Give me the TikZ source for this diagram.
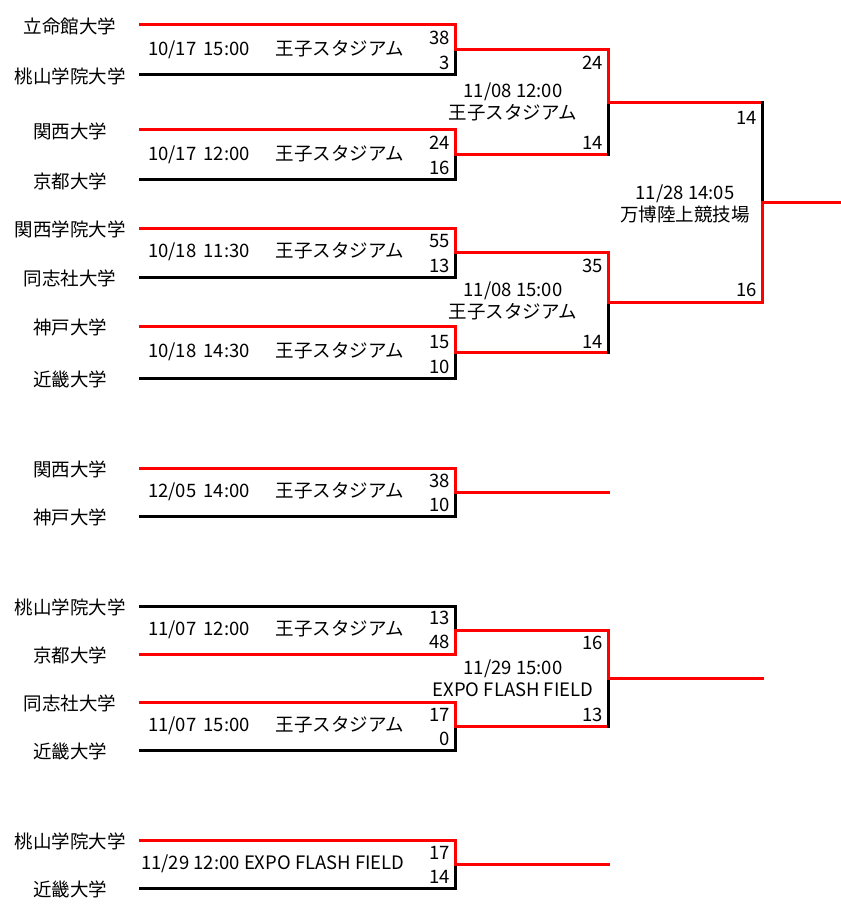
\documentclass[tikz,border=0pt]{standalone}
\usepackage{fontspec}
\setmainfont{Noto Sans CJK JP}
\usetikzlibrary{positioning}

\tikzset{
  win/.style={draw=red, line width=3pt, line cap=rect},
  lose/.style={draw=black, line width=3pt, line cap=rect},
  team/.style={font=\fontsize{18.5}{22}\selectfont, inner sep=0pt},
  score/.style={font=\fontsize{18.5}{22}\selectfont, inner sep=0pt, anchor=east},
  info/.style={font=\fontsize{18.5}{22}\selectfont, inner sep=0pt, align=center},
}

% one bout: name, x left, x right, y top, y bottom, top line, top half, bottom half, bottom line
\newcommand{\bout}[9]{
  \coordinate (#1-t) at (#2,#4);
  \coordinate (#1-tr) at (#3,#4);
  \coordinate (#1-m) at (#3,{(#4+#5)/2});
  \coordinate (#1-br) at (#3,#5);
  \coordinate (#1-b) at (#2,#5);
  \draw[#6] (#1-t) -- (#1-tr);
  \draw[#9] (#1-b) -- (#1-br);
  \draw[#7] (#1-tr) -- (#1-m);
  \draw[#8] (#1-br) -- (#1-m);
}
% date, time and venue on one line
\newcommand{\slot}[3]{#1\hspace{7pt}#2\hspace{26pt}#3}

\begin{document}
\begin{tikzpicture}[x=1pt, y=-1pt]
    \useasboundingbox (0,0) rectangle (840,912);

    % first bracket
    \bout{m1}{140}{455}{25}{75}{win}{win}{lose}{lose}
    \bout{m2}{140}{455}{130}{180}{win}{win}{lose}{lose}
    \bout{m3}{140}{455}{228}{277}{win}{win}{lose}{lose}
    \bout{m4}{140}{455}{326}{378}{win}{win}{lose}{lose}
    \bout{s1}{455}{608}{50}{155}{win}{win}{lose}{win}
    \bout{s2}{455}{608}{252.5}{352}{win}{win}{lose}{win}
    \bout{fin}{608}{762}{102.5}{302.25}{win}{lose}{win}{win}
    \coordinate (fin-out) at ([xshift=78pt]fin-m);
    \draw[win] (fin-m) -- (fin-out);

    \node[team] (m1-a) at (70,26) {立命館大学};
    \node[team] (m1-b) at (70,76) {桃山学院大学};
    \node[team] (m2-a) at (70,131) {関西大学};
    \node[team] (m2-b) at (70,181) {京都大学};
    \node[team] (m3-a) at (70,229) {関西学院大学};
    \node[team] (m3-b) at (70,278) {同志社大学};
    \node[team] (m4-a) at (70,327) {神戸大学};
    \node[team] (m4-b) at (70,379) {近畿大学};

    \node[info, anchor=west] (m1-info) at (148,50) {\slot{10/17}{15:00}{王子スタジアム}};
    \node[info, anchor=west] (m2-info) at (148,155) {\slot{10/17}{12:00}{王子スタジアム}};
    \node[info, anchor=west] (m3-info) at (148,252) {\slot{10/18}{11:30}{王子スタジアム}};
    \node[info, anchor=west] (m4-info) at (148,352) {\slot{10/18}{14:30}{王子スタジアム}};
    \node[info] (s1-info) at (513,102) {11/08 12:00\\王子スタジアム};
    \node[info] (s2-info) at (513,301) {11/08 15:00\\王子スタジアム};
    \node[info] (fin-info) at (685,204) {11/28 14:05\\万博陸上競技場};

    \node[score] (m1-sa) at (450,38) {38};
    \node[score] (m1-sb) at (450,63) {3};
    \node[score] (m2-sa) at (450,143) {24};
    \node[score] (m2-sb) at (450,168) {16};
    \node[score] (m3-sa) at (450,241) {55};
    \node[score] (m3-sb) at (450,266) {13};
    \node[score] (m4-sa) at (450,342) {15};
    \node[score] (m4-sb) at (450,367) {10};
    \node[score] (s1-sa) at (603,63) {24};
    \node[score] (s1-sb) at (603,143) {14};
    \node[score] (s2-sa) at (603,266) {35};
    \node[score] (s2-sb) at (603,342) {14};
    \node[score] (fin-sa) at (757,118) {14};
    \node[score] (fin-sb) at (757,290) {16};

    % 12/05
    \bout{m5}{140}{455}{468}{516}{win}{win}{lose}{lose}
    \coordinate (m5-out) at ([xshift=153pt]m5-m);
    \draw[win] (m5-m) -- (m5-out);
    \node[team] (m5-a) at (70,469) {関西大学};
    \node[team] (m5-b) at (70,517) {神戸大学};
    \node[info, anchor=west] (m5-info) at (148,492) {\slot{12/05}{14:00}{王子スタジアム}};
    \node[score] (m5-sa) at (450,481) {38};
    \node[score] (m5-sb) at (450,505) {10};

    % second bracket
    \bout{m6}{140}{455}{606}{654}{lose}{lose}{win}{win}
    \bout{m7}{140}{455}{702}{750}{win}{win}{lose}{lose}
    \bout{s3}{455}{608}{630}{726}{win}{win}{lose}{win}
    \coordinate (s3-out) at ([xshift=154pt]s3-m);
    \draw[win] (s3-m) -- (s3-out);
    \node[team] (m6-a) at (70,607) {桃山学院大学};
    \node[team] (m6-b) at (70,655) {京都大学};
    \node[team] (m7-a) at (70,703) {同志社大学};
    \node[team] (m7-b) at (70,751) {近畿大学};
    \node[info, anchor=west] (m6-info) at (148,630) {\slot{11/07}{12:00}{王子スタジアム}};
    \node[info, anchor=west] (m7-info) at (148,726) {\slot{11/07}{15:00}{王子スタジアム}};
    \node[info] (s3-info) at (513,678) {11/29 15:00\\EXPO FLASH FIELD};
    \node[score] (m6-sa) at (450,618) {13};
    \node[score] (m6-sb) at (450,642) {48};
    \node[score] (m7-sa) at (450,715) {17};
    \node[score] (m7-sb) at (450,739) {0};
    \node[score] (s3-sa) at (603,643) {16};
    \node[score] (s3-sb) at (603,715) {13};

    % 11/29
    \bout{m8}{140}{455}{840}{888}{win}{win}{lose}{lose}
    \coordinate (m8-out) at ([xshift=153pt]m8-m);
    \draw[win] (m8-m) -- (m8-out);
    \node[team] (m8-a) at (70,841) {桃山学院大学};
    \node[team] (m8-b) at (70,889) {近畿大学};
    \node[info, anchor=west] (m8-info) at (141,864) {11/29 12:00 EXPO FLASH FIELD};
    \node[score] (m8-sa) at (450,853) {17};
    \node[score] (m8-sb) at (450,877) {14};
\end{tikzpicture}
\end{document}
